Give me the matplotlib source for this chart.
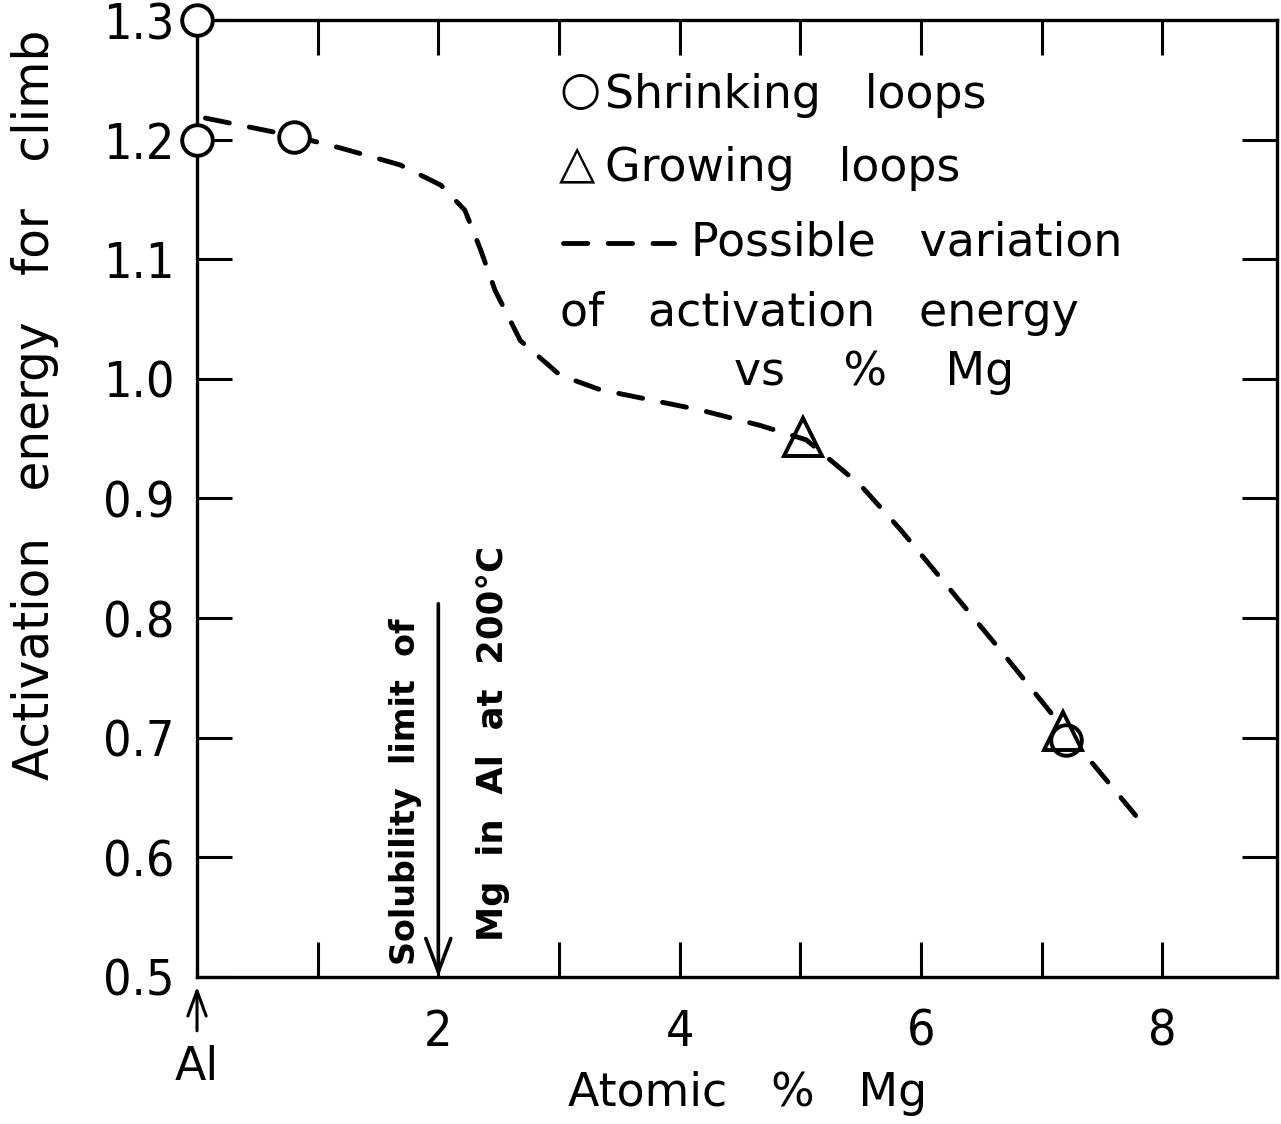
import matplotlib
matplotlib.use('Agg')
import matplotlib.pyplot as plt
from matplotlib.lines import Line2D
from matplotlib import font_manager

# activation energy for climb vs atomic % Mg
shrink_x = [0.0, 0.0, 0.80, 7.20]
shrink_y = [1.300, 1.200, 1.202, 0.698]
grow_x = [5.02, 7.18]
grow_y = [0.951, 0.706]

# hand-drawn "possible variation" curve
curve_x = [0.07, 0.80, 1.19, 1.68, 2.02, 2.22, 2.35, 2.47, 2.68, 3.01, 3.34,
           4.17, 4.67, 5.05, 5.50, 5.83, 6.25, 6.66, 7.18, 7.78]
curve_y = [1.218, 1.203, 1.193, 1.179, 1.162, 1.141, 1.108, 1.074, 1.032, 1.003, 0.991,
           0.974, 0.961, 0.949, 0.911, 0.874, 0.823, 0.773, 0.708, 0.635]

x_ticks = [0, 1, 2, 3, 4, 5, 6, 7, 8]
x_labels = ['', '', '2', '', '4', '', '6', '', '8']
y_ticks = [0.5, 0.6, 0.7, 0.8, 0.9, 1.0, 1.1, 1.2, 1.3]
y_labels = ['0.5', '0.6', '0.7', '0.8', '0.9', '1.0', '1.1', '1.2', '1.3']

solubility_x = 2.0

plt.rcParams['font.family'] = ['DejaVu Sans']
print(sorted({f.name + ' ' + str(f.stretch) for f in font_manager.fontManager.ttflist if 'DejaVu' in f.name or 'Narrow' in f.name}))

fig = plt.figure(figsize=(12.81, 11.24), dpi=100)
ax = fig.add_axes([0.1538, 0.1308, 0.843, 0.8514])

ax.plot(curve_x, curve_y, color='black', lw=3.5, linestyle=(0, (5.0, 4.2)),
        dash_capstyle='round', zorder=2)
ax.plot(shrink_x, shrink_y, 'o', ms=22, mfc='white', mec='black', mew=2.8,
        clip_on=False, zorder=5)
ax.plot(grow_x, grow_y, '^', ms=28, mfc='none', mec='black', mew=2.8,
        clip_on=False, zorder=5)

ax.set_xlim(0, 8.95)
ax.set_ylim(0.5, 1.3)
ax.set_xticks(x_ticks)
ax.set_xticklabels(x_labels, fontsize=36, fontstretch='condensed')
ax.set_yticks(y_ticks)
ax.set_yticklabels(y_labels, fontsize=36, fontstretch='condensed')
ax.tick_params(direction='in', length=25, width=2.2, top=True, right=True, pad=16)
ax.tick_params(axis='x', pad=22)
for s in ax.spines.values():
    s.set_linewidth(2.4)

ax.set_xlabel('Atomic   %   Mg', fontsize=33)
ax.xaxis.set_label_coords(0.51, -0.098)
ax.set_ylabel('Activation   energy   for   climb', fontsize=35)
ax.yaxis.set_label_coords(-0.128, 0.598)

# Al marker below the origin
ax.annotate('', xy=(0, 0.492), xytext=(0, 0.455), annotation_clip=False,
            arrowprops=dict(arrowstyle='->,head_length=0.6,head_width=0.22',
                            lw=2.2, color='black', mutation_scale=30,
                            shrinkA=0, shrinkB=0))
ax.text(0, 0.424, 'Al', ha='center', va='center', fontsize=33)

# solubility limit arrow
ax.annotate('', xy=(solubility_x, 0.5), xytext=(solubility_x, 0.812),
            arrowprops=dict(arrowstyle='->,head_length=0.8,head_width=0.3',
                            lw=2.6, color='black', mutation_scale=30,
                            shrinkA=0, shrinkB=0))
ax.text(1.73, 0.655, 'Solubility  limit  of', rotation=90, ha='center', va='center',
        fontsize=24, fontweight='bold')
ax.text(2.45, 0.695, 'Mg  in  Al  at  200°C', rotation=90, ha='center', va='center',
        fontsize=25.5, fontweight='bold')

# hand lettered key
kw = dict(fontsize=33, va='center', ha='left')
ax.text(3.0, 1.240, '○', fontsize=34, va='center', ha='left')
ax.text(3.38, 1.237, 'Shrinking   loops', **kw)
ax.text(3.0, 1.179, '△', fontsize=34, va='center', ha='left')
ax.text(3.38, 1.176, 'Growing   loops', **kw)
ax.add_line(Line2D([3.03, 3.95], [1.114, 1.114], color='black', lw=3.5,
                   linestyle=(0, (5.0, 4.2)), dash_capstyle='round'))
ax.text(4.09, 1.114, 'Possible   variation', **kw)
ax.text(3.01, 1.055, 'of   activation   energy', **kw)
ax.text(4.45, 1.005, 'vs    %    Mg', **kw)

fig.savefig('out.png', dpi=100)
